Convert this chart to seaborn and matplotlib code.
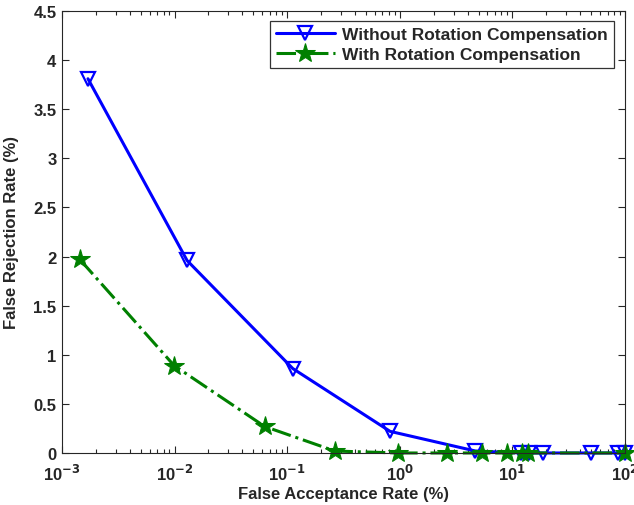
import numpy as np
import pandas as pd
import matplotlib
matplotlib.use("Agg")
import matplotlib.pyplot as plt
import seaborn as sns

# datos
far_sin = [0.0017, 0.0129, 0.112, 0.82, 4.7, 12.0, 14.0, 18.7, 50.0, 86.0, 100.0]
frr_sin = [3.81, 1.96, 0.86, 0.22, 0.02, 0.0, 0.0, 0.0, 0.0, 0.0, 0.0]

far_con = [0.00144, 0.0099, 0.063, 0.265, 0.96, 2.6, 5.4, 8.9, 12.2, 13.7, 100.0]
frr_con = [1.97, 0.89, 0.27, 0.02, 0.0, 0.0, 0.0, 0.0, 0.0, 0.0, 0.0]

etiqueta_sin = "Without Rotation Compensation"
etiqueta_con = "With Rotation Compensation"

df_sin = pd.DataFrame({"far": far_sin, "frr": frr_sin})
df_con = pd.DataFrame({"far": far_con, "frr": frr_con})

sns.set_style("ticks")
plt.rcParams["font.family"] = ["Liberation Sans", "DejaVu Sans"]
plt.rcParams["font.weight"] = "bold"
plt.rcParams["axes.labelweight"] = "bold"
plt.rcParams["mathtext.default"] = "bf"

fig = plt.figure(figsize=(6.34, 5.06), dpi=100)
ax = fig.add_axes([0.0978, 0.1028, 0.888, 0.8735])

sns.lineplot(data=df_sin, x="far", y="frr", ax=ax, color="#0000ff", lw=2.2,
             marker="v", markersize=10, markerfacecolor="none",
             markeredgecolor="#0000ff", markeredgewidth=1.6,
             label=etiqueta_sin, clip_on=False, sort=False)
sns.lineplot(data=df_con, x="far", y="frr", ax=ax, color="#008000", lw=2.2,
             linestyle="-.", marker="*", markersize=15,
             markerfacecolor="#008000", markeredgecolor="#008000",
             label=etiqueta_con, clip_on=False, sort=False)

ax.set_xscale("log")
ax.set_xlim(1e-3, 1e2)
ax.set_ylim(0, 4.5)
ax.set_yticks(np.arange(0, 4.51, 0.5))
ax.set_yticklabels(["0", "0.5", "1", "1.5", "2", "2.5", "3", "3.5", "4", "4.5"])
ax.set_xticks([1e-3, 1e-2, 1e-1, 1e0, 1e1, 1e2])
ax.set_xticklabels([r"10$^{-3}$", r"10$^{-2}$", r"10$^{-1}$", r"10$^{0}$",
                    r"10$^{1}$", r"10$^{2}$"])

ax.tick_params(which="both", direction="in", top=True, right=True,
               labelsize=12, width=0.8)
ax.tick_params(which="major", length=5)
ax.tick_params(which="minor", length=3)
ax.tick_params(axis="x", pad=7)
ax.tick_params(axis="y", pad=4)
for lab in ax.get_xticklabels() + ax.get_yticklabels():
    lab.set_fontweight("bold")
for s in ax.spines.values():
    s.set_linewidth(0.8)
    s.set_visible(True)

ax.set_xlabel("False Acceptance Rate (%)", fontsize=12, fontweight="bold", labelpad=2)
ax.set_ylabel("False Rejection Rate (%)", fontsize=12, fontweight="bold", labelpad=10)

leg = ax.legend(loc="upper right", fontsize=12.5, frameon=True, fancybox=False,
                edgecolor="black", handlelength=3.4, handletextpad=0.4,
                borderpad=0.35, labelspacing=0.25, borderaxespad=0,
                bbox_to_anchor=(0.980, 0.977))
leg.get_frame().set_linewidth(0.9)
for t in leg.get_texts():
    t.set_fontweight("bold")

fig.savefig("out.png", dpi=100)
